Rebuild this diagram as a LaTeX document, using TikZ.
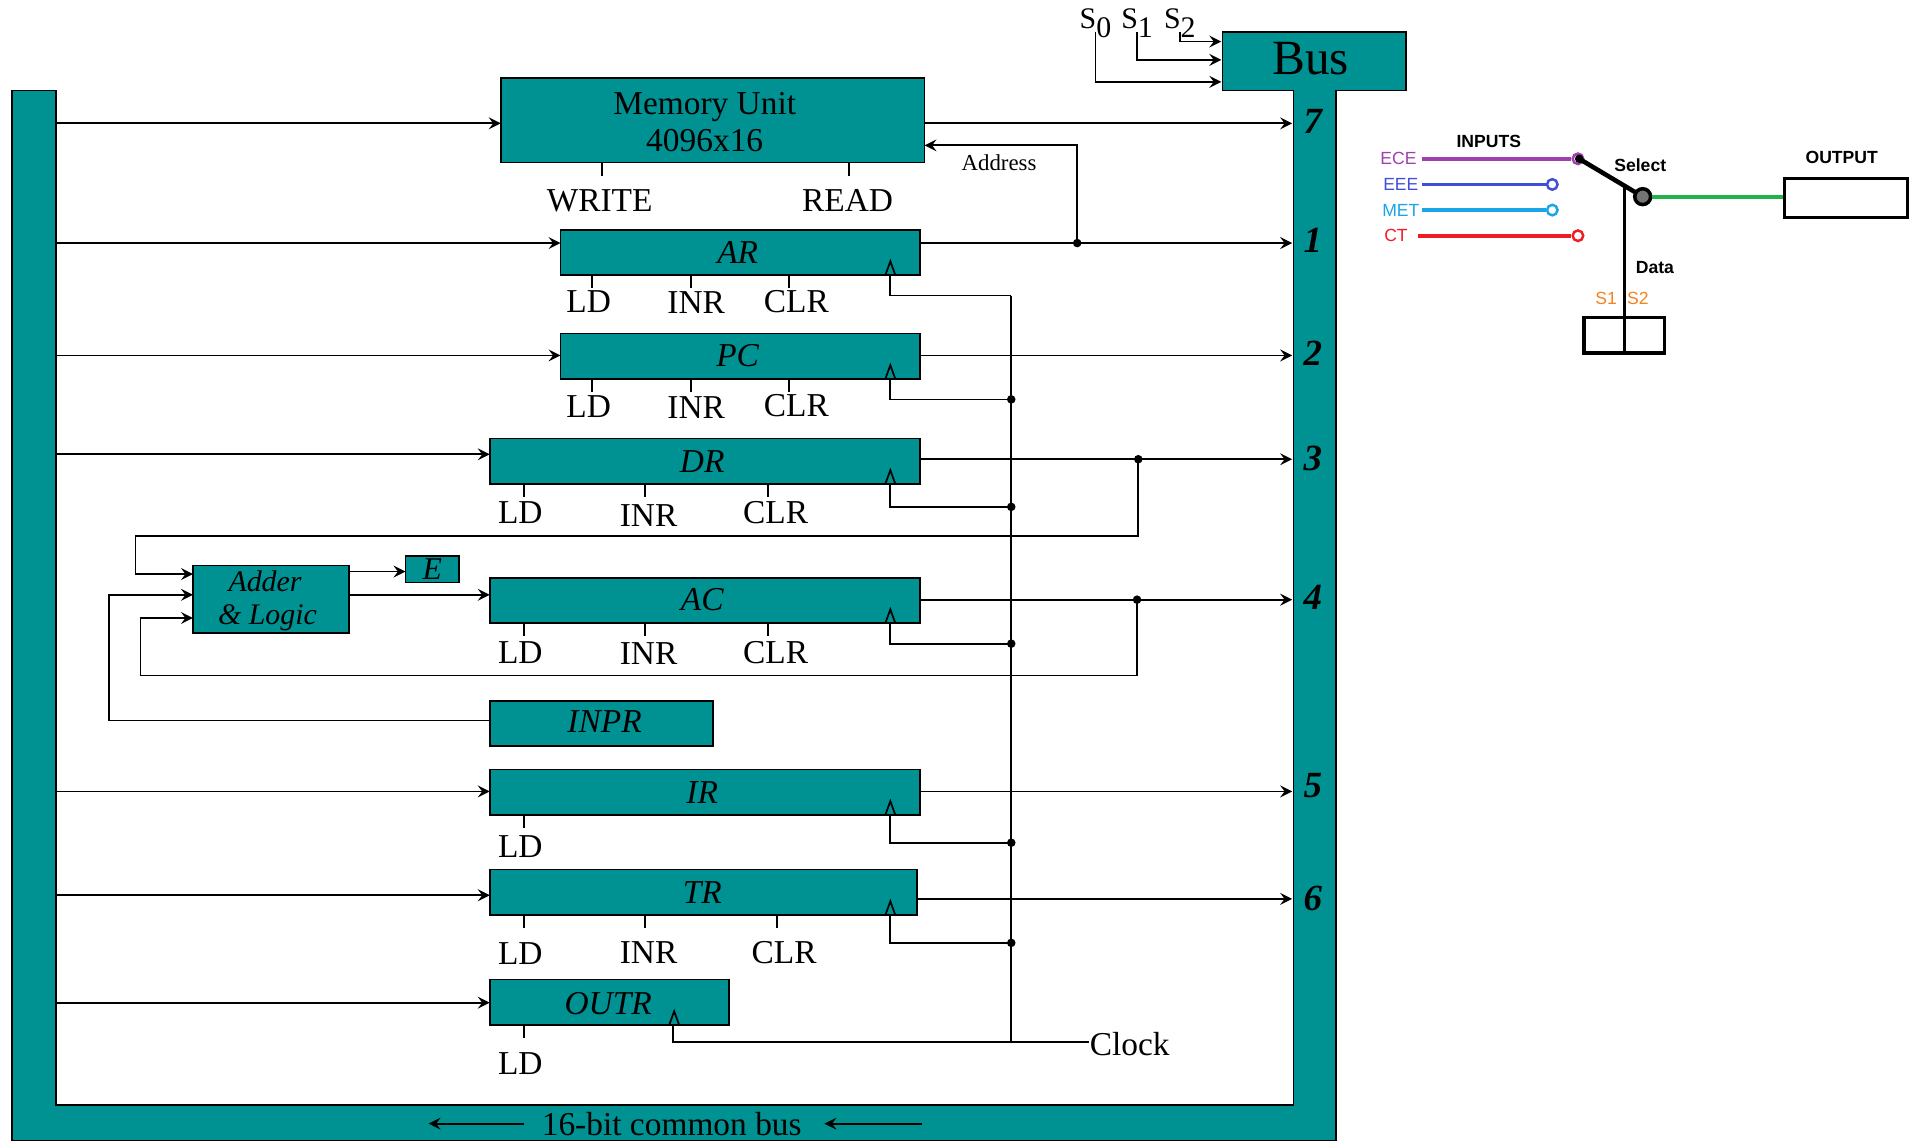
\documentclass[tikz,border=0pt]{standalone}
\usepackage{fontspec}
\setmainfont{Liberation Serif}
\newfontfamily\labelfont{Liberation Sans}
\definecolor{bustl}{HTML}{009292}
\definecolor{ecec}{HTML}{A040B0}
\definecolor{eeec}{HTML}{3F4FD8}
\definecolor{metc}{HTML}{1AA5E8}
\definecolor{ctc}{HTML}{EE1C25}
\definecolor{outc}{HTML}{22B14C}
\definecolor{sc}{HTML}{F58220}
\def\u{.01221cm}
\begin{document}
\begin{tikzpicture}[x=.01221cm,y=-.01221cm,line width=.5pt,>=stealth,
  regbox/.style={draw,fill=bustl,inner sep=0pt,outer sep=0pt},
  regname/.style={inner sep=0pt,font=\itshape\fontsize{9.5}{11}\selectfont},
  ctl/.style={inner sep=0pt,font=\fontsize{9.5}{11}\selectfont},
  busno/.style={inner sep=0pt,font=\bfseries\itshape\fontsize{10.5}{12}\selectfont},
  side/.style={inner sep=0pt,font=\labelfont\fontsize{5}{6}\selectfont},
  sideb/.style={inner sep=0pt,font=\labelfont\bfseries\fontsize{5}{6}\selectfont},
  inwire/.style={line width=1.1pt},
  pin/.style={circle,draw,fill=white,line width=.7pt,inner sep=0pt,minimum size=3pt}]
\useasboundingbox (0,0) rectangle (1568,934);
\draw[fill=bustl] (10,74)--(46,74)--(46,905)--(1059,905)--(1059,74)--(1001,74)--(1001,26)
  --(1151,26)--(1151,74)--(1094,74)--(1094,934)--(10,934)--cycle;
\coordinate (lbus) at (46,0);
\coordinate (rbus) at (1058,0);
\coordinate (tbus) at (1000,0);
\coordinate (clk) at (828,0);
\node[inner sep=0pt,font=\fontsize{14}{16}\selectfont] (bus) at (1073,48) {Bus};
\node[regbox,minimum width=347*\u,minimum height=69*\u] (mem) at (583.5,98.5) {};
\node[inner sep=0pt,align=center,font=\fontsize{9.5}{10.7}\selectfont] (memtext) at (577,100) {Memory Unit\\4096x16};
\foreach \n/\t/\l/\r/\tp/\bt/\lx/\ly in {ar/AR/459/753/188/225/604/207,pc/PC/459/753/273/310/604/291,
    dr/DR/401/753/359/396/575/378,ac/AC/401/753/473/510/575/491,inpr/INPR/401/584/574/611/495/591,
    ir/IR/401/753/630/667/575/649,tr/TR/401/751/712/749/575/731,outr/OUTR/401/597/802/839/498/822}{
  \node[regbox,minimum width=(\r-\l)*\u,minimum height=(\bt-\tp)*\u] (\n) at ({(\l+\r)/2},{(\tp+\bt)/2}) {};
  \node[regname] (\n text) at (\lx,\ly) {\t};
}
\node[regbox,minimum width=128*\u,minimum height=55*\u] (adder) at (222,490.5) {};
\node[regname,font=\itshape\fontsize{8.5}{10}\selectfont] (addera) at (217,476) {Adder};
\node[regname,font=\itshape\fontsize{8.5}{10}\selectfont] (adderb) at (219,506) {\& Logic};
\node[regbox,minimum width=44*\u,minimum height=22*\u,font=\itshape\fontsize{9}{10}\selectfont] (e) at (354,466) {E};
\foreach \n/\y in {mem/101,ar/199,pc/291,dr/372,ir/648,tr/733,outr/821}
  \draw[->] (lbus |- 0,\y) -- (\n.west |- 0,\y);
\foreach \n/\y in {mem/101,ar/199,pc/291,dr/376,ac/491,ir/648,tr/736}
  \draw[->] (\n.east |- 0,\y) -- (rbus |- 0,\y);
\foreach \n/\tx/\lx/\ly/\t in {mem/493/491/164/WRITE,mem/695/694/164/READ,
    ar/485/482/247/LD,ar/566/570/248/INR,ar/646/652/247/CLR,
    pc/485/482/333/LD,pc/566/570/334/INR,pc/646/652/332/CLR,
    dr/429/426/420/LD,dr/528/531/422/INR,dr/629/635/420/CLR,
    ac/429/426/534/LD,ac/528/531/535/INR,ac/629/635/534/CLR,
    ir/429/426/693/LD,
    tr/429/426/781/LD,tr/528/531/780/INR,tr/636/642/780/CLR,
    outr/429/426/871/LD}{
  \node[ctl] (\n\t) at (\lx,\ly) {\t};
  \draw (\n.south -| \tx,0) -- ++(0,11);
}
\foreach \n/\y in {ar/242,pc/327,dr/415,ac/527,ir/690,tr/772}{
  \draw (\n.south -| 729,0) ++(-4,0) -- ++(4,-11) -- ++(4,11);
  \draw (\n.south -| 729,0) -- (729,\y) -- (clk |- 0,\y);
}
\foreach \y in {327,415,527,690,772}
  \fill (clk |- 0,\y) circle (3.5);
\draw (outr.south -| 552,0) ++(-4,0) -- ++(4,-11) -- ++(4,11);
\node[ctl] (clock) at (925,855) {Clock};
\draw (outr.south -| 551,0) -- (551,853) -- (clock.west |- 0,853);
\draw (clk |- 0,242) -- (clk |- 0,853);
\node[inner sep=0pt,font=\fontsize{6.5}{8}\selectfont] (addr) at (818,133) {Address};
\coordinate (ardot) at (882,199);
\fill (ardot) circle (3.5);
\draw[->] (ardot) -- (882,119) -- (mem.east |- 0,119);
\coordinate (drdot) at (932,376);
\fill (drdot) circle (3.5);
\draw[->] (drdot) -- (932,439) -- (111,439) -- (111,470) -- (adder.west |- 0,470);
\coordinate (acdot) at (931,491);
\fill (acdot) circle (3.5);
\draw[->] (acdot) -- (931,553) -- (115,553) -- (115,506) -- (adder.west |- 0,506);
\draw[->] (inpr.west |- 0,590) -- (89,590) -- (89,487) -- (adder.west |- 0,487);
\draw[->] (adder.east |- 0,468) -- (e.west |- 0,468);
\draw[->] (adder.east |- 0,487) -- (ac.west |- 0,487);
\foreach \t/\y in {7/99,1/197,2/289,3/375,4/489,5/643,6/736}
  \node[busno] (no\t) at (1075,\y) {\t};
\node[ctl] (busname) at (550,920) {16-bit common bus};
\draw[->] (busname.west) ++(-14,0) -- ++(-78,0);
\draw[->] (busname.east) ++(98,0) -- ++(-80,0);
\foreach \t/\x/\y in {0/897/67,1/931/49,2/966/34}{
  \node[inner sep=0pt,font=\fontsize{8.5}{10}\selectfont] (s\t) at (\x,19) {S\raisebox{-2.6pt}{\t}};
  \draw[->] (\x,26) -- (\x,\y) -- (tbus |- 0,\y);
}
\node[sideb] (inputs) at (1219,116) {INPUTS};
\node[sideb] (select) at (1343,135) {Select};
\node[sideb] (output) at (1508,129) {OUTPUT};
\node[sideb] (data) at (1355,219) {Data};
\foreach \n/\t/\c/\lx/\y/\a/\b in {ece/ECE/ecec/1145/130/1164/1292,eee/EEE/eeec/1147/151/1164/1271,
    met/MET/metc/1147/172/1164/1271,ct/CT/ctc/1143/193/1161/1292}{
  \node[side,text=\c] (\n) at (\lx,\y) {\t};
  \node[pin,draw=\c] (\n pin) at (\b,\y) {};
  \draw[inwire,\c] (\a,\y) -- (\n pin);
}
\node[side,text=sc] (s1) at (1315,244) {S1};
\node[side,text=sc] (s2) at (1341,244) {S2};
\node[draw,line width=1pt,minimum width=101*\u,minimum height=32*\u,inner sep=0pt] (outbox) at (1511.5,162) {};
\node[draw,line width=1pt,minimum width=66*\u,minimum height=29*\u,inner sep=0pt] (dbox) at (1330,274.5) {};
\draw[line width=.9pt] (1330,152) -- (dbox.south);
\draw[line width=1.3pt] (1293,130) -- (1345,161);
\node[circle,draw=black,fill=black!55,line width=1pt,inner sep=0pt,minimum size=13*\u] (hub) at (1345,161) {};
\fill (1293,130) circle (3.5);
\draw[inwire,outc] (hub) -- (outbox.west |- hub);
\end{tikzpicture}
\end{document}
